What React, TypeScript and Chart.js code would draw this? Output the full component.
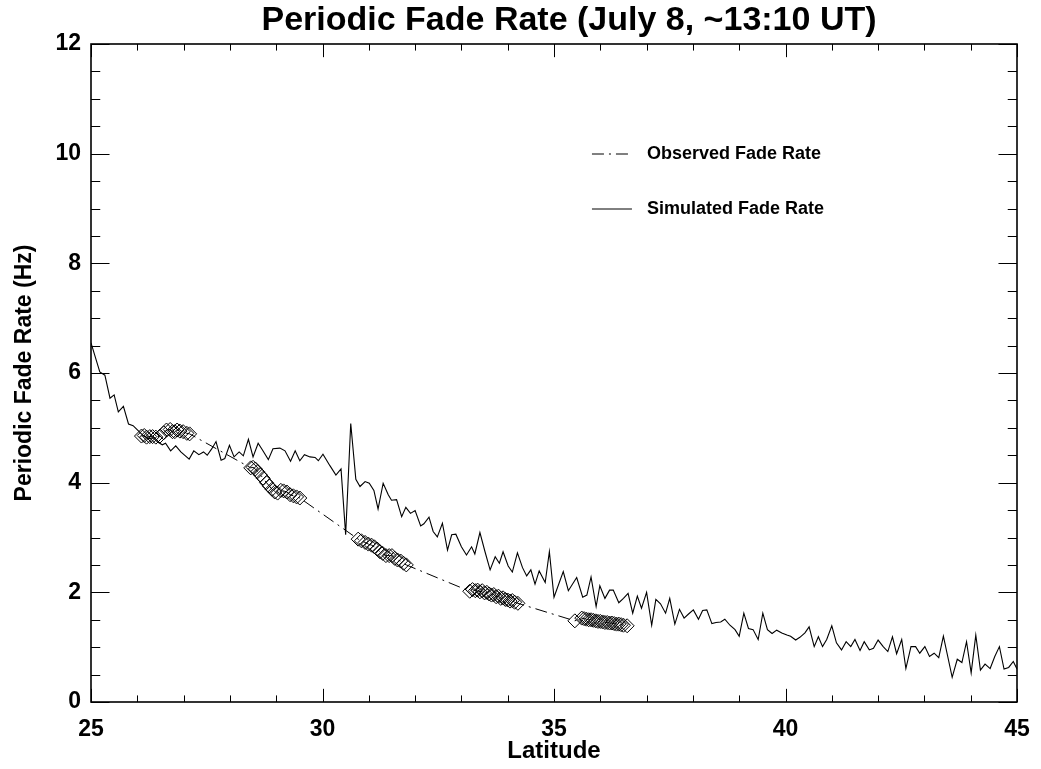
import React, { useEffect, useRef } from 'react';
import { Chart, registerables } from 'chart.js';

Chart.register(...registerables);

const FONT = '"Liberation Sans", Arial, Helvetica, sans-serif';

const TITLE = 'Periodic Fade Rate (July 8, ~13:10 UT)';
const X_TITLE = 'Latitude';
const Y_TITLE = 'Periodic Fade Rate (Hz)';
const LEGEND_LABELS = ['Observed Fade Rate', 'Simulated Fade Rate'];

const X_MIN = 25;
const X_MAX = 45;
const X_STEP = 5;
const Y_MIN = 0;
const Y_MAX = 12;
const Y_STEP = 2;

// Simulated fade rate (solid line)
const SIM_LAT = [
  25.00, 25.19, 25.30, 25.41, 25.50, 25.59, 25.70, 25.81, 25.91, 26.04,
  26.14, 26.24, 26.34, 26.44, 26.54, 26.61, 26.72, 26.83, 26.94, 27.12,
  27.22, 27.33, 27.43, 27.51, 27.61, 27.70, 27.81, 27.89, 27.99, 28.09,
  28.20, 28.29, 28.40, 28.50, 28.61, 28.70, 28.83, 28.93, 29.08, 29.19,
  29.31, 29.41, 29.51, 29.61, 29.73, 29.84, 29.91, 30.01, 30.16, 30.29,
  30.40, 30.50, 30.61, 30.72, 30.81, 30.92, 31.01, 31.11, 31.20, 31.31,
  31.42, 31.49, 31.60, 31.71, 31.80, 31.90, 32.00, 32.12, 32.19, 32.30,
  32.39, 32.48, 32.59, 32.70, 32.79, 32.88, 33.00, 33.11, 33.22, 33.29,
  33.40, 33.51, 33.62, 33.73, 33.82, 33.90, 34.01, 34.10, 34.21, 34.32,
  34.41, 34.50, 34.59, 34.68, 34.81, 34.90, 35.00, 35.20, 35.31, 35.49,
  35.62, 35.71, 35.80, 35.91, 35.99, 36.10, 36.20, 36.28, 36.40, 36.50,
  36.60, 36.70, 36.80, 36.89, 37.00, 37.11, 37.20, 37.30, 37.41, 37.50,
  37.61, 37.71, 37.81, 37.90, 38.01, 38.12, 38.21, 38.30, 38.41, 38.50,
  38.60, 38.69, 38.80, 38.91, 39.00, 39.10, 39.20, 39.30, 39.41, 39.51,
  39.61, 39.71, 39.81, 39.92, 40.03, 40.11, 40.22, 40.31, 40.42, 40.51,
  40.62, 40.71, 40.80, 40.89, 41.00, 41.10, 41.21, 41.31, 41.41, 41.50,
  41.61, 41.70, 41.81, 41.90, 42.00, 42.11, 42.21, 42.31, 42.40, 42.51,
  42.60, 42.71, 42.81, 42.90, 43.01, 43.11, 43.21, 43.31, 43.41, 43.60,
  43.71, 43.81, 43.91, 44.01, 44.11, 44.21, 44.31, 44.42, 44.52, 44.62,
  44.72, 44.82, 44.92, 45.00,
];
const SIM_RATE = [
  6.55, 6.02, 5.96, 5.54, 5.60, 5.29, 5.39, 5.07, 5.04, 4.93,
  4.85, 4.80, 4.82, 4.74, 4.69, 4.72, 4.58, 4.67, 4.56, 4.43,
  4.58, 4.51, 4.56, 4.50, 4.62, 4.75, 4.41, 4.44, 4.68, 4.47,
  4.56, 4.49, 4.79, 4.47, 4.72, 4.60, 4.42, 4.62, 4.63, 4.58,
  4.39, 4.58, 4.40, 4.51, 4.47, 4.46, 4.40, 4.52, 4.31, 4.14,
  4.25, 3.05, 5.08, 4.06, 3.93, 4.02, 3.99, 3.86, 3.52, 3.99,
  3.78, 3.68, 3.69, 3.38, 3.55, 3.44, 3.49, 3.21, 3.25, 3.37,
  3.11, 3.01, 3.26, 2.77, 3.05, 3.06, 2.83, 2.68, 2.83, 2.70,
  3.09, 2.74, 2.41, 2.65, 2.53, 2.74, 2.48, 2.37, 2.72, 2.45,
  2.30, 2.41, 2.15, 2.39, 2.18, 2.74, 1.91, 2.38, 2.03, 2.27,
  1.91, 1.95, 2.28, 1.74, 2.12, 1.89, 2.04, 2.04, 1.81, 1.89,
  1.98, 1.62, 1.93, 1.71, 2.00, 1.40, 1.87, 1.79, 1.62, 1.89,
  1.42, 1.69, 1.53, 1.60, 1.68, 1.51, 1.67, 1.68, 1.43, 1.45,
  1.46, 1.51, 1.40, 1.32, 1.20, 1.62, 1.34, 1.32, 1.14, 1.62,
  1.32, 1.25, 1.31, 1.26, 1.22, 1.20, 1.13, 1.18, 1.26, 1.37,
  1.01, 1.19, 1.01, 1.14, 1.39, 1.08, 0.95, 1.10, 1.01, 1.14,
  0.94, 1.10, 0.95, 0.98, 1.13, 1.01, 0.92, 1.19, 0.88, 1.14,
  0.61, 1.01, 1.01, 0.89, 1.01, 0.83, 0.89, 0.81, 1.20, 0.45,
  0.78, 0.72, 1.10, 0.53, 1.22, 0.58, 0.69, 0.61, 0.83, 1.01,
  0.60, 0.63, 0.74, 0.60,
];

// Observed fade rate (diamonds joined by dash-dot line)
const OBS_LAT = [
  26.09, 26.15, 26.20, 26.27, 26.33, 26.40, 26.49, 26.57, 26.63, 26.71,
  26.76, 26.81, 26.86, 26.92, 26.99, 27.07, 27.13,
  28.45, 28.50, 28.55, 28.60, 28.66, 28.72, 28.79, 28.85, 28.91, 28.97,
  29.03, 29.10, 29.16, 29.23, 29.30, 29.37, 29.44, 29.51,
  30.77, 30.84, 30.92, 30.99, 31.06, 31.12, 31.18, 31.24, 31.30, 31.37,
  31.44, 31.50, 31.56, 31.62, 31.69, 31.75, 31.81,
  33.18, 33.24, 33.30, 33.35, 33.40, 33.45, 33.50, 33.55, 33.60, 33.65,
  33.70, 33.75, 33.80, 33.85, 33.90, 33.95, 34.00, 34.05, 34.10, 34.15,
  34.22,
  35.45, 35.60, 35.65, 35.70, 35.75, 35.80, 35.85, 35.90, 35.95, 36.00,
  36.05, 36.10, 36.15, 36.20, 36.25, 36.30, 36.35, 36.40, 36.45, 36.50,
  36.58,
];
const OBS_RATE = [
  4.85, 4.86, 4.83, 4.84, 4.84, 4.83, 4.85, 4.91, 4.96, 4.97,
  4.93, 4.93, 4.96, 4.94, 4.93, 4.90, 4.89,
  4.27, 4.28, 4.25, 4.20, 4.14, 4.08, 4.00, 3.94, 3.88, 3.83,
  3.81, 3.86, 3.85, 3.83, 3.78, 3.76, 3.74, 3.72,
  2.97, 2.94, 2.91, 2.88, 2.86, 2.83, 2.79, 2.74, 2.71, 2.67,
  2.67, 2.67, 2.62, 2.59, 2.57, 2.53, 2.50,
  2.02, 2.05, 2.03, 2.04, 2.01, 2.03, 1.99, 2.00, 1.97, 1.95,
  1.96, 1.92, 1.93, 1.89, 1.90, 1.87, 1.86, 1.84, 1.85, 1.82,
  1.80,
  1.48, 1.53, 1.52, 1.51, 1.50, 1.50, 1.49, 1.48, 1.47, 1.47,
  1.46, 1.45, 1.45, 1.44, 1.44, 1.43, 1.42, 1.42, 1.41, 1.40,
  1.39,
];

const DASH_DOT = [12, 5, 2, 5];

const framePlugin = {
  id: 'frameTicks',
  afterDatasetsDraw(chart: any) {
    const { ctx, chartArea, scales } = chart;
    const { left, right, top, bottom } = chartArea;
    const xs = scales.x;
    const ys = scales.y;
    ctx.save();
    ctx.strokeStyle = '#000';
    ctx.lineWidth = 1;
    const xMajLen = 0.02 * (bottom - top);
    const yMajLen = 0.02 * (right - left);
    ctx.beginPath();
    for (let v = X_MIN; v <= X_MAX + 1e-9; v += 1) {
      const px = Math.round(xs.getPixelForValue(v)) + 0.5;
      const len = Math.abs(v % X_STEP) < 1e-6 ? xMajLen : xMajLen / 2;
      ctx.moveTo(px, bottom);
      ctx.lineTo(px, bottom - len);
      ctx.moveTo(px, top);
      ctx.lineTo(px, top + len);
    }
    for (let v = Y_MIN; v <= Y_MAX + 1e-9; v += 0.5) {
      const py = Math.round(ys.getPixelForValue(v)) + 0.5;
      const len = Math.abs(v % Y_STEP) < 1e-6 ? yMajLen : yMajLen / 2;
      ctx.moveTo(left, py);
      ctx.lineTo(left + len, py);
      ctx.moveTo(right, py);
      ctx.lineTo(right - len, py);
    }
    ctx.stroke();
    ctx.lineWidth = 1.6;
    ctx.strokeRect(left, top, right - left, bottom - top);

    // title
    ctx.fillStyle = '#000';
    ctx.font = `bold 34px ${FONT}`;
    ctx.textAlign = 'center';
    ctx.textBaseline = 'middle';
    ctx.fillText(TITLE, (left + right) / 2 + 15, 21);

    // legend
    const lx0 = left + 0.541 * (right - left);
    const lx1 = lx0 + 40;
    const ly = [top + 110, top + 165];
    ctx.lineWidth = 1;
    ctx.setLineDash(DASH_DOT);
    ctx.beginPath();
    ctx.moveTo(lx0, ly[0]);
    ctx.lineTo(lx1, ly[0]);
    ctx.stroke();
    ctx.setLineDash([]);
    ctx.beginPath();
    ctx.moveTo(lx0, ly[1]);
    ctx.lineTo(lx1, ly[1]);
    ctx.stroke();
    ctx.font = `bold 18px ${FONT}`;
    ctx.textAlign = 'left';
    ctx.fillText(LEGEND_LABELS[0], lx1 + 15, ly[0]);
    ctx.fillText(LEGEND_LABELS[1], lx1 + 15, ly[1]);
    ctx.restore();
  },
};

export default function App() {
  const ref = useRef<HTMLCanvasElement | null>(null);

  useEffect(() => {
    if (!ref.current) return;
    const sim = SIM_LAT.map((x, i) => ({ x, y: SIM_RATE[i] }));
    const obs = OBS_LAT.map((x, i) => ({ x, y: OBS_RATE[i] }));
    const tickFont = { family: FONT, weight: 'bold' as const, size: 23 };
    const chart = new Chart(ref.current, {
      type: 'line',
      data: {
        datasets: [
          {
            label: LEGEND_LABELS[1],
            data: sim,
            borderColor: '#000',
            borderWidth: 1.1,
            pointRadius: 0,
            tension: 0,
            fill: false,
          },
          {
            label: LEGEND_LABELS[0],
            data: obs,
            borderColor: '#000',
            borderWidth: 1,
            borderDash: DASH_DOT,
            pointStyle: 'rectRot',
            pointRadius: 7,
            pointBorderWidth: 1,
            pointBorderColor: '#000',
            pointBackgroundColor: 'rgba(0,0,0,0)',
            tension: 0,
            fill: false,
          },
        ],
      },
      options: {
        responsive: false,
        animation: false,
        layout: { padding: { top: 44, right: 24, left: 0, bottom: 0 } },
        plugins: {
          legend: { display: false },
          tooltip: { enabled: false },
          title: { display: false },
        },
        scales: {
          x: {
            type: 'linear',
            min: X_MIN,
            max: X_MAX,
            grid: { display: false, drawTicks: false },
            border: { display: false },
            ticks: {
              stepSize: X_STEP,
              autoSkip: false,
              maxRotation: 0,
              color: '#000',
              font: tickFont,
              padding: 14,
            },
            title: {
              display: true,
              text: X_TITLE,
              color: '#000',
              font: { family: FONT, weight: 'bold', size: 24 },
              padding: { top: 0, bottom: 3 },
            },
            afterFit: (s: any) => {
              s.height = 67;
              s.paddingLeft = 0;
              s.paddingRight = 0;
            },
          },
          y: {
            type: 'linear',
            min: Y_MIN,
            max: Y_MAX,
            grid: { display: false, drawTicks: false },
            border: { display: false },
            ticks: {
              stepSize: Y_STEP,
              color: '#000',
              font: tickFont,
              padding: 10,
            },
            title: {
              display: true,
              text: Y_TITLE,
              color: '#000',
              font: { family: FONT, weight: 'bold', size: 23 },
              padding: { top: 11, bottom: 0 },
            },
            afterFit: (s: any) => {
              s.width = 91;
              s.paddingTop = 0;
              s.paddingBottom = 0;
            },
          },
        },
      },
      plugins: [framePlugin],
    });
    return () => chart.destroy();
  }, []);

  return (
    <div style={{ position: 'absolute', left: 0, top: 0, width: 1041, height: 769, background: '#fff' }}>
      <canvas ref={ref} width={1041} height={769} />
    </div>
  );
}
